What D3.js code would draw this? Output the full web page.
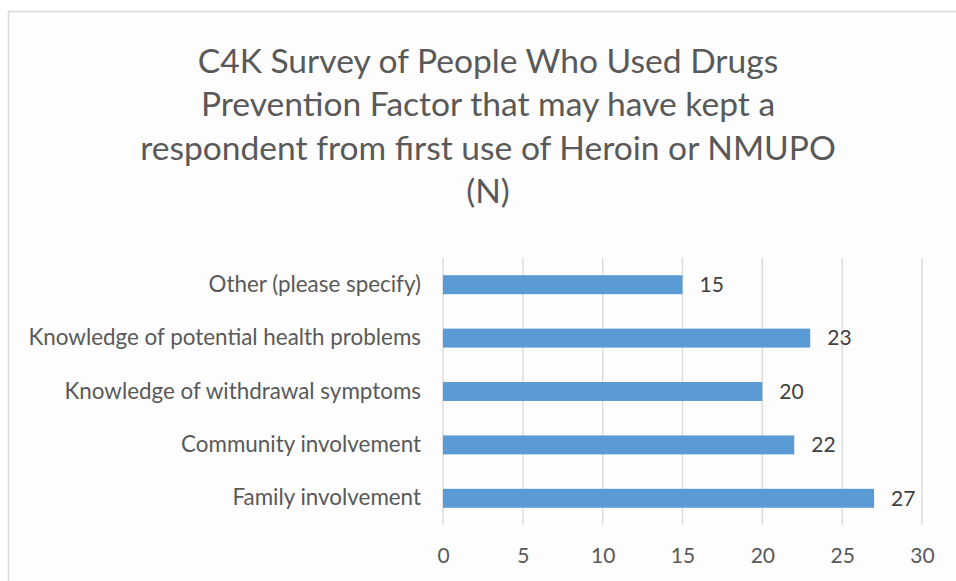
<!DOCTYPE html>
<html><head><meta charset="utf-8">
<script src="https://cdn.jsdelivr.net/npm/d3@7"></script>
<style>
html,body{margin:0;padding:0;background:#fff;}
svg{display:block;}
</style></head>
<body>
<svg id="chart" width="956" height="581"></svg>
<script>
const titleLines = ["C4K Survey of People Who Used Drugs", "Prevention Factor that may have kept a", "respondent from first use of Heroin or NMUPO", "(N)"];
const categories = ["Other (please specify)", "Knowledge of potential health problems", "Knowledge of withdrawal symptoms", "Community involvement", "Family involvement"];
const values = [15, 23, 20, 22, 27];
const xTicks = [0, 5, 10, 15, 20, 25, 30];

const FONT = "Lato, 'Open Sans', sans-serif";
const svg = d3.select("#chart");

svg.append("rect").attr("x", 8.5).attr("y", 11.5).attr("width", 960).attr("height", 600)
  .attr("fill", "#fdfdfd").attr("stroke", "#d9d9d9").attr("stroke-width", 1.5);

const x = d3.scaleLinear().domain([0, 30]).range([443, 922]);
const y = d3.scaleBand().domain(categories).range([258, 525]).paddingInner(0.645).paddingOuter(0.3225);

// title
svg.append("g").selectAll("text").data(titleLines).join("text")
  .attr("x", 488).attr("y", (d, i) => 73 + i * 43.3)
  .attr("text-anchor", "middle").attr("fill", "#595959")
  .style("font-family", FONT).style("font-size", "33.6px").text(d => d);

// gridlines
svg.append("g").selectAll("line").data(xTicks).join("line")
  .attr("x1", d => x(d)).attr("x2", d => x(d)).attr("y1", 258).attr("y2", 525)
  .attr("stroke", "#d9d9d9").attr("stroke-width", 1.3);

// x axis labels
const xAxis = d3.axisBottom(x).tickValues(xTicks).tickSize(0).tickPadding(0);
const gx = svg.append("g").attr("transform", "translate(0,548)").call(xAxis);
gx.select(".domain").remove();
gx.selectAll("text").attr("fill", "#595959").attr("dy", "0.71em")
  .style("font-family", FONT).style("font-size", "21px");

// y axis labels
const yAxis = d3.axisLeft(y).tickSize(0).tickPadding(0);
const gy = svg.append("g").attr("transform", "translate(421,0)").call(yAxis);
gy.select(".domain").remove();
gy.selectAll("text").attr("fill", "#595959")
  .style("font-family", FONT).style("font-size", "22.4px");

// bars
svg.append("g").selectAll("rect").data(values).join("rect")
  .attr("x", x(0)).attr("y", (d, i) => y(categories[i]))
  .attr("width", d => x(d) - x(0)).attr("height", y.bandwidth())
  .attr("fill", "#5b9bd5");

// value labels
svg.append("g").selectAll("text").data(values).join("text")
  .attr("x", d => x(d) + 17).attr("y", (d, i) => y(categories[i]) + y.bandwidth() / 2)
  .attr("dy", "0.35em").attr("fill", "#404040")
  .style("font-family", FONT).style("font-size", "21px").text(d => d);
</script>
</body></html>
